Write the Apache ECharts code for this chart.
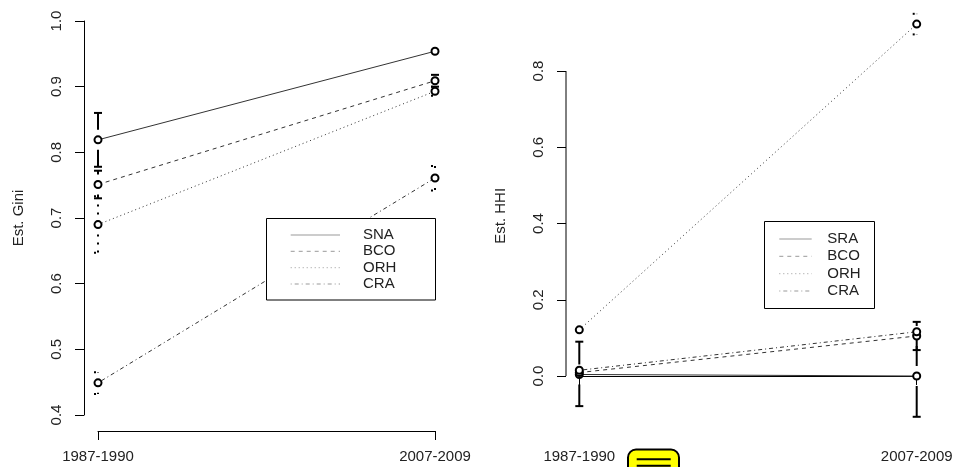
<!DOCTYPE html>
<html>
<head>
<meta charset="utf-8">
<script src="https://cdn.jsdelivr.net/npm/echarts@6/dist/echarts.min.js"></script>
<style>html,body{margin:0;padding:0;background:#fff}#c{width:957px;height:467px}</style>
</head>
<body>
<div id="c"></div>
<script>
// ---------- data ----------
const categories = ['1987-1990', '2007-2009'];

const giniNames = ['SNA', 'BCO', 'ORH', 'CRA'];
const giniTickValues = [0.4, 0.5, 0.6, 0.7, 0.8, 0.9, 1.0];
const giniSNA = [0.819, 0.954];
const giniSNALow = [0.778, 0.949];
const giniSNAHigh = [0.860, 0.959];
const giniBCO = [0.751, 0.909];
const giniBCOLow = [0.730, 0.900];
const giniBCOHigh = [0.772, 0.918];
const giniORH = [0.690, 0.893];
const giniORHLow = [0.647, 0.886];
const giniORHHigh = [0.733, 0.900];
const giniCRA = [0.449, 0.761];
const giniCRALow = [0.432, 0.742];
const giniCRAHigh = [0.465, 0.779];

const hhiNames = ['SRA', 'BCO', 'ORH', 'CRA'];
const hhiTickValues = [0.0, 0.2, 0.4, 0.6, 0.8];
const hhiSRA = [0.004, 0.000];
const hhiSRALow = [-0.079, -0.107];
const hhiSRAHigh = [0.090, 0.107];
const hhiBCO = [0.009, 0.105];
const hhiBCOLow = [0.004, 0.068];
const hhiBCOHigh = [0.014, 0.142];
const hhiORH = [0.121, 0.923];
const hhiORHLow = [0.116, 0.896];
const hhiORHHigh = [0.126, 0.950];
const hhiCRA = [0.015, 0.116];
const hhiCRALow = [0.010, 0.110];
const hhiCRAHigh = [0.020, 0.122];

// ---------- styles ----------
const FONT = 'Liberation Sans, Arial, Helvetica, sans-serif';
const lineDash = ['solid', [4, 4], [1, 3], [1, 3, 4, 3]];
const barDash = [null, [8, 8], [2, 6], [2, 6, 8, 6]];

function errRender(dash) {
  return function (params, api) {
    const x = api.value(0), lo = api.value(1), hi = api.value(2), c = api.value(3);
    const pLo = api.coord([x, lo]), pHi = api.coord([x, hi]), pC = api.coord([x, c]);
    const gap = 10, cap = 4;
    const style = { stroke: '#000', lineWidth: 2, lineDash: dash, fill: null };
    const ch = [];
    const X = pC[0];
    if (pHi[1] < pC[1] - gap) {
      ch.push({ type: 'line', shape: { x1: X, y1: pC[1] - gap, x2: X, y2: pHi[1] }, style });
    }
    if (pLo[1] > pC[1] + gap) {
      ch.push({ type: 'line', shape: { x1: X, y1: pC[1] + gap, x2: X, y2: pLo[1] }, style });
    }
    if (pC[1] - pHi[1] > 4) ch.push({ type: 'line', shape: { x1: X - cap, y1: pHi[1], x2: X + cap, y2: pHi[1] }, style });
    if (pLo[1] - pC[1] > 4) ch.push({ type: 'line', shape: { x1: X - cap, y1: pLo[1], x2: X + cap, y2: pLo[1] }, style });
    return { type: 'group', children: ch };
  };
}

function lineSeries(name, data, idx, gi) {
  return {
    type: 'line', name, data, xAxisIndex: gi, yAxisIndex: gi,
    symbol: 'emptyCircle', symbolSize: 7, z: 3,
    lineStyle: { color: '#333', width: 1, type: lineDash[idx] },
    itemStyle: { color: '#000', borderColor: '#000', borderWidth: 2 },
    emphasis: { disabled: true }, silent: true
  };
}
function errSeries(vals, lows, highs, idx, gi) {
  return {
    type: 'custom', xAxisIndex: gi, yAxisIndex: gi, z: 2, silent: true,
    renderItem: errRender(barDash[idx]),
    data: vals.map((v, i) => [i, lows[i], highs[i], v])
  };
}

const giniGroups = [[giniSNA, giniSNALow, giniSNAHigh], [giniBCO, giniBCOLow, giniBCOHigh],
  [giniORH, giniORHLow, giniORHHigh], [giniCRA, giniCRALow, giniCRAHigh]];
const hhiGroups = [[hhiSRA, hhiSRALow, hhiSRAHigh], [hhiBCO, hhiBCOLow, hhiBCOHigh],
  [hhiORH, hhiORHLow, hhiORHHigh], [hhiCRA, hhiCRALow, hhiCRAHigh]];

const series = [];
giniGroups.forEach((g, i) => { series.push(lineSeries(giniNames[i], g[0], i, 0)); series.push(errSeries(g[0], g[1], g[2], i, 0)); });
hhiGroups.forEach((g, i) => { series.push(lineSeries('h' + hhiNames[i], g[0], i, 1)); series.push(errSeries(g[0], g[1], g[2], i, 1)); });

// right panel y axis line spans only the tick range (R style)
series.push({
  type: 'custom', xAxisIndex: 1, yAxisIndex: 1, silent: true, z: 1,
  data: [[0, hhiTickValues[0], hhiTickValues[hhiTickValues.length - 1]]],
  renderItem: function (params, api) {
    const a = api.coord([0, api.value(1)]), b = api.coord([0, api.value(2)]);
    const x = a[0] - 13.3;
    return { type: 'line', shape: { x1: x, y1: a[1], x2: x, y2: b[1] }, style: { stroke: '#000', lineWidth: 1 } };
  }
});

const xAxisBase = {
  type: 'category', data: categories, boundaryGap: false,
  axisLine: { show: true, lineStyle: { color: '#000', width: 1 } },
  axisTick: { show: true, length: 9, lineStyle: { color: '#000' } },
  axisLabel: { fontFamily: FONT, fontSize: 15, color: '#222', margin: 18 },
  splitLine: { show: false }
};

const yAxisBase = {
  type: 'value', nameLocation: 'middle', nameRotate: 90, nameGap: 58,
  nameTextStyle: { fontFamily: FONT, fontSize: 15, color: '#222' },
  axisTick: { show: true, length: 9, lineStyle: { color: '#000' } },
  axisLabel: { rotate: 90, fontFamily: FONT, fontSize: 15, color: '#222', margin: 20,
    formatter: v => (+v).toFixed(1) },
  splitLine: { show: false }
};

// legends
function legendGraphics(names, box, lineX1, lineX2, textX, rowsY) {
  const g = [{ type: 'rect', shape: box, style: { fill: '#fff', stroke: '#000', lineWidth: 1 }, z: 10 }];
  names.forEach((n, i) => {
    g.push({ type: 'line', shape: { x1: lineX1, y1: rowsY[i], x2: lineX2, y2: rowsY[i] },
      style: { stroke: '#999', lineWidth: 1, lineDash: lineDash[i] === 'solid' ? null : lineDash[i] }, z: 11 });
    g.push({ type: 'text', x: textX, y: rowsY[i], style: { text: n, font: '15px ' + FONT, fill: '#222',
      textVerticalAlign: 'middle', verticalAlign: 'middle' }, z: 11 });
  });
  return g;
}

const graphic = []
  .concat(legendGraphics(giniNames, { x: 266.5, y: 218.5, width: 169, height: 81.5 }, 290.7, 340, 363, [235, 251.3, 267.7, 284]))
  .concat(legendGraphics(hhiNames, { x: 764.5, y: 221.5, width: 110, height: 87 }, 779.3, 811.7, 827.3, [239, 256.3, 273.7, 291]))
  .concat([
    { type: 'rect', shape: { x: 628, y: 449.5, width: 51, height: 30, r: 8 }, style: { fill: '#ffff00', stroke: '#000', lineWidth: 2 }, z: 20 },
    { type: 'line', shape: { x1: 636.7, y1: 459.3, x2: 670.7, y2: 459.3 }, style: { stroke: '#000', lineWidth: 2 }, z: 21 },
    { type: 'line', shape: { x1: 636.7, y1: 465.7, x2: 670.7, y2: 465.7 }, style: { stroke: '#000', lineWidth: 2 }, z: 21 }
  ]);

const option = {
  animation: false,
  backgroundColor: '#fff',
  grid: [
    { left: 98, width: 337, top: 21, height: 394, containLabel: false },
    { left: 579.3, width: 337.4, top: 10, height: 411.75, containLabel: false }
  ],
  xAxis: [
    Object.assign({}, xAxisBase, { gridIndex: 0, offset: 16 }),
    Object.assign({}, xAxisBase, { gridIndex: 1, offset: 9.25 })
  ],
  yAxis: [
    Object.assign({}, yAxisBase, {
      gridIndex: 0, name: 'Est. Gini', min: giniTickValues[0], max: giniTickValues[giniTickValues.length - 1],
      offset: 14,
      axisLine: { show: true, lineStyle: { color: '#000', width: 1 } },
      axisTick: { show: true, length: 9, lineStyle: { color: '#000' }, customValues: giniTickValues },
      axisLabel: Object.assign({}, yAxisBase.axisLabel, { customValues: giniTickValues })
    }),
    Object.assign({}, yAxisBase, {
      gridIndex: 1, name: 'Est. HHI', min: -0.12, max: 0.96,
      offset: 13.3,
      axisLine: { show: false },
      axisTick: { show: true, length: 9, lineStyle: { color: '#000' }, customValues: hhiTickValues },
      axisLabel: Object.assign({}, yAxisBase.axisLabel, { customValues: hhiTickValues })
    })
  ],
  series,
  graphic
};

const chart = echarts.init(document.getElementById('c'), null, { renderer: 'canvas' });
chart.setOption(option);
</script>
</body>
</html>
